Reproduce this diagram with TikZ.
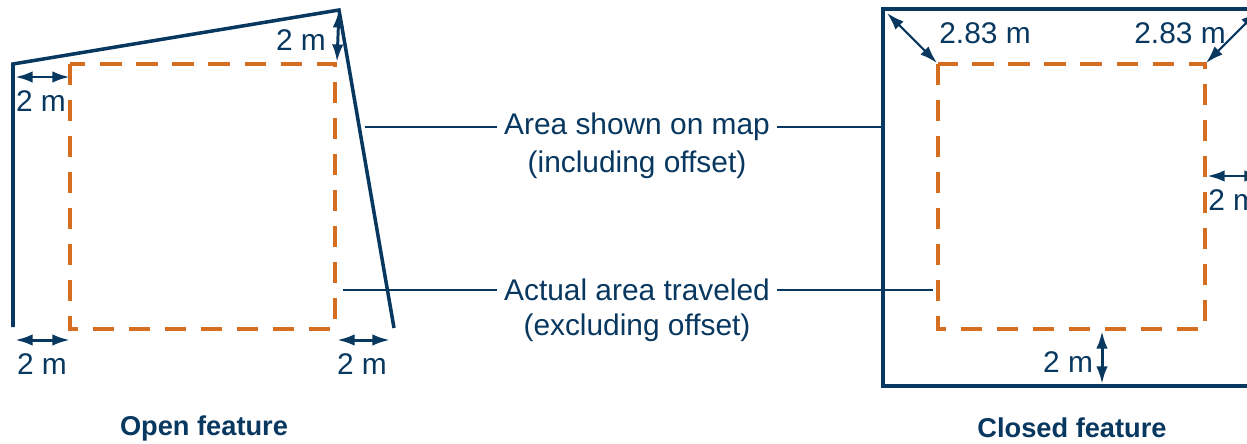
\documentclass[tikz,border=0pt]{standalone}
\usepackage{fontspec}
\setmainfont{Liberation Sans}
\usepackage{xcolor}
\usepackage{tikz}
\usetikzlibrary{arrows.meta}
\definecolor{navy}{HTML}{08375F}
\definecolor{rust}{HTML}{D66E22}

\begin{document}
\begin{tikzpicture}[x=0.02cm, y=-0.02cm,
  outline/.style={navy, line width=2pt, line join=miter},
  boxline/.style={navy, line width=2.7pt},
  travel/.style={rust, line width=2.5pt, dash pattern=on 12pt off 8.5pt},
  gap/.style={navy, line width=1.7pt, {Latex[length=10pt,width=6.5pt]}-{Latex[length=10pt,width=6.5pt]}},
  diag/.style={navy, line width=1.2pt, {Latex[length=10pt,width=6.5pt]}-{Latex[length=10pt,width=6.5pt]}},
  lead/.style={navy, line width=1.35pt},
  lbl/.style={text=navy, font=\fontsize{17}{20}\selectfont, inner sep=0pt},
  caption/.style={lbl, inner xsep=4pt},
  title/.style={text=navy, font=\fontsize{15.5}{19}\selectfont\bfseries, inner sep=0pt}]
  \path[use as bounding box] (0,0) rectangle (1247,443);
  \clip (0,0) rectangle (1247,443);

  % open feature
  \coordinate (o1) at (13,327);
  \coordinate (o2) at (13,64);
  \coordinate (o3) at (339,10);
  \coordinate (o4) at (394,328);
  \draw[outline] (o1) -- (o2) -- (o3) -- (o4);
  \draw[travel] (70,64) rectangle (335,329);
  \coordinate (otl) at (70,77);
  \coordinate (otr) at (337,62);
  \coordinate (obl) at (70,340);
  \coordinate (obr) at (337,340);
  \draw[gap] (15,77) -- (otl);
  \draw[gap] (o3) -- (otr);
  \draw[gap] (15,340) -- (obl);
  \draw[gap] (obr) -- (390,340);
  \node[lbl] (otlLbl) at (41,101) {2 m};
  \node[lbl] (otrLbl) at (301,40) {2 m};
  \node[lbl] (oblLbl) at (42,364) {2 m};
  \node[lbl] (obrLbl) at (362,364) {2 m};
  \node[title] (openTitle) at (204,428) {Open feature};

  % captions in the middle
  \node[caption] (areaMap) at (637,127) {Area shown on map};
  \node[lbl] (inclOff) at (637,165) {(including offset)};
  \node[caption] (actualArea) at (637,290) {Actual area traveled};
  \node[lbl] (exclOff) at (637,328) {(excluding offset)};
  \coordinate (mapL) at (365,127);
  \coordinate (mapR) at (881,127);
  \coordinate (actL) at (343,290);
  \coordinate (actR) at (933,290);
  \draw[lead] (mapL) -- (areaMap.west);
  \draw[lead] (areaMap.east) -- (mapR);
  \draw[lead] (actL) -- (actualArea.west);
  \draw[lead] (actualArea.east) -- (actR);

  % closed feature
  \draw[boxline] (883,9) rectangle (1300,386);
  \draw[travel] (938,64) rectangle (1205,329);
  \draw[diag] (887,13) -- (937,63);
  \draw[diag] (1206,63) -- (1258,11);
  \draw[gap] (1207,176) -- (1262,176);
  \draw[gap] (1102,331) -- (1102,384);
  \node[lbl] (ctlLbl) at (985,33) {2.83 m};
  \node[lbl] (ctrLbl) at (1180,33) {2.83 m};
  \node[lbl, anchor=west] (crLbl) at (1208,200) {2 m};
  \node[lbl] (cbLbl) at (1068,362) {2 m};
  \node[title] (closedTitle) at (1072,428) {Closed feature};
\end{tikzpicture}
\end{document}
